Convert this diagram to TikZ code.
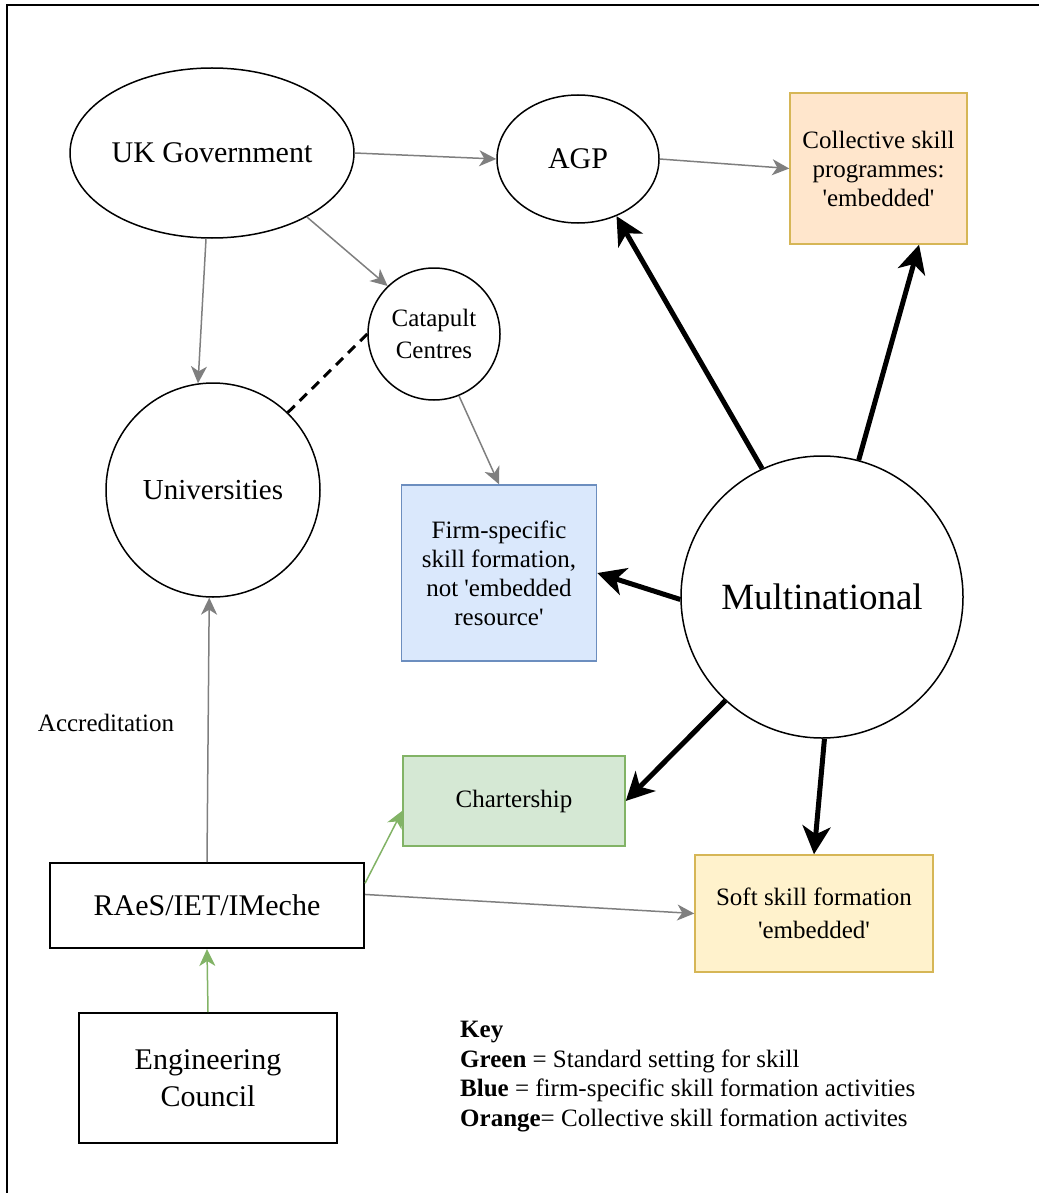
\documentclass[tikz,border=0pt]{standalone}
\usepackage{fontspec}
\setmainfont{Liberation Serif}
\usetikzlibrary{arrows.meta,shapes.geometric}
\definecolor{grayline}{HTML}{7F7F7F}
\definecolor{bluefill}{HTML}{DAE8FC}
\definecolor{bluedraw}{HTML}{6C8EBF}
\definecolor{greenfill}{HTML}{D5E8D4}
\definecolor{greendraw}{HTML}{82B366}
\definecolor{orangefill}{HTML}{FFE6CC}
\definecolor{orangedraw}{HTML}{D6B656}
\definecolor{yellowfill}{HTML}{FFF2CC}
\newcommand{\sq}{\textquotesingle}
\begin{document}
\begin{tikzpicture}[x=1pt,y=-1pt,
  ell/.style={ellipse,draw=black,line width=1.5pt,inner sep=0pt,align=center},
  circ/.style={circle,draw=black,line width=1.5pt,inner sep=0pt,align=center},
  plainbox/.style={rectangle,draw=black,line width=2pt,inner sep=0pt,align=center},
  colbox/.style={rectangle,line width=1.5pt,inner sep=0pt,align=center},
  grayarr/.style={draw=grayline,line width=1.5pt,-{Stealth[length=17pt,width=16pt,inset=5pt]}},
  greenarr/.style={draw=greendraw,line width=1.5pt,-{Stealth[length=17pt,width=16pt,inset=5pt]}},
  bigarr/.style={draw=black,line width=5pt,-{Stealth[length=28pt,width=28pt,inset=8pt]}},
  f30/.style={font=\fontsize{30}{36}\selectfont},
  f25/.style={font=\fontsize{25}{29}\selectfont}
]
\useasboundingbox (0,0) rectangle (1039,1193);
% frame (top and left edges visible)
\draw[line width=2pt] (7,1193) -- (7,5) -- (1039,5);

% nodes
\node[ell,f30,minimum width=258pt,minimum height=170pt] (gov) at (212,153) {UK Government};
\node[ell,f30,minimum width=162pt,minimum height=128pt] (agp) at (578,159) {AGP};
\node[colbox,f25,fill=orangefill,draw=orangedraw,minimum width=177pt,minimum height=151pt] (coll) at (878.5,168.5) {Collective skill\\programmes:\\\sq embedded\sq};
\node[circ,font=\fontsize{25}{32}\selectfont,minimum size=132pt] (cat) at (434,334) {Catapult\\Centres};
\node[circ,font=\fontsize{29}{34}\selectfont,minimum size=214pt] (uni) at (213,490) {Universities};
\node[colbox,f25,fill=bluefill,draw=bluedraw,minimum width=195pt,minimum height=176pt] (firm) at (499,573) {Firm-specific\\skill formation,\\not \sq embedded\\resource\sq};
\node[circ,font=\fontsize{37}{42}\selectfont,minimum size=282pt] (multi) at (822,597) {Multinational};
\node[colbox,f25,fill=greenfill,draw=greendraw,minimum width=222pt,minimum height=90pt] (chart) at (514,801) {Chartership};
\node[colbox,font=\fontsize{25}{33}\selectfont,fill=yellowfill,draw=orangedraw,minimum width=238pt,minimum height=117pt] (soft) at (814,913.5) {Soft skill formation\\\sq embedded\sq};
\node[plainbox,f30,minimum width=314pt,minimum height=85pt] (raes) at (207,905.5) {RAeS/IET/IMeche};
\node[plainbox,font=\fontsize{30}{37}\selectfont,minimum width=258pt,minimum height=130pt] (eng) at (208,1078) {Engineering\\Council};
\node[f25,inner sep=0pt] (accr) at (106,723) {Accreditation};
\node[font=\fontsize{25}{29.5}\selectfont,anchor=north west,align=left,inner sep=0pt] (key) at (460,1021)
  {\textbf{Key}\\\textbf{Green} = Standard setting for skill\\\textbf{Blue} = firm-specific skill formation activities\\\textbf{Orange}= Collective skill formation activites};

% gray connectors
\draw[grayarr] (gov.east) -- (agp.west);
\draw[grayarr] (agp.east) -- (coll.west);
\draw[grayarr] (gov.266) -- (uni.98);
\draw[grayarr] (gov.326) -- (cat.134);
\draw[grayarr] (cat.292) -- (firm.north);
\draw[grayarr] (raes.north) -- (uni.268);
\draw[grayarr] (raes.4) -- (soft.west);
% dashed link
\draw[black,line width=3pt,dash pattern=on 10pt off 7pt] (cat.180) -- (uni.46);
% green connectors
\draw[greenarr] (eng.north) -- (raes.south);
\draw[greenarr] (raes.8.5) -- (chart.185);
% thick black connectors
\draw[bigarr] (multi.115) -- (agp.304);
\draw[bigarr] (multi.75) -- (coll.298);
\draw[bigarr] (multi.181) -- (firm.east);
\draw[bigarr] (multi.227) -- (chart.east);
\draw[bigarr] (multi.271) -- (soft.north);
\end{tikzpicture}
\end{document}
